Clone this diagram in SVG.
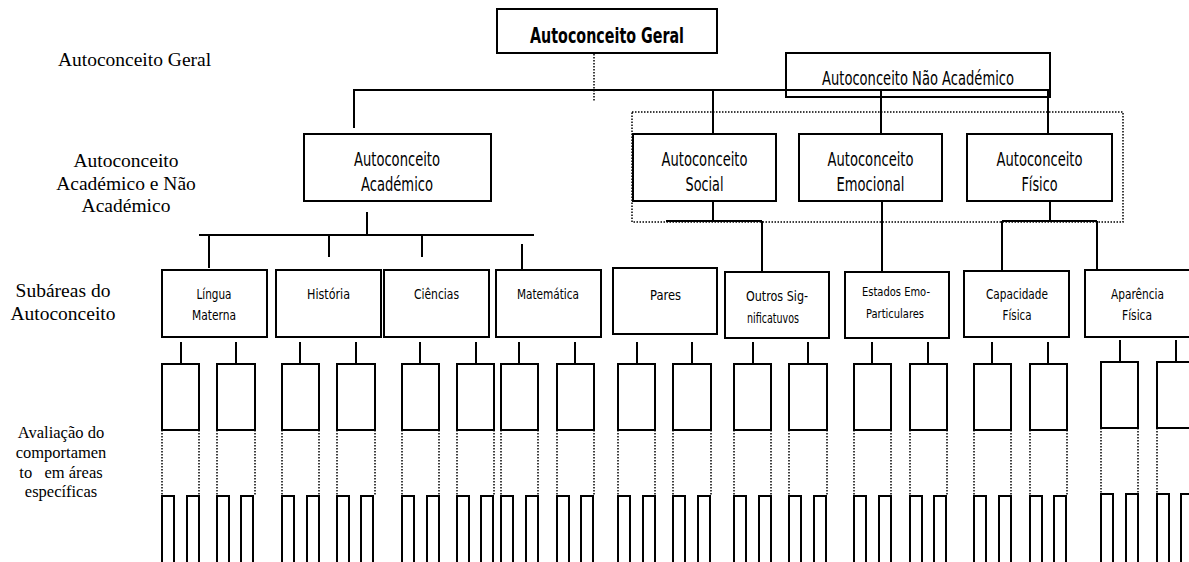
<svg xmlns="http://www.w3.org/2000/svg" width="1189" height="562" viewBox="0 0 1189 562">
<style>
.bx{fill:#fff;stroke:#000;stroke-width:2}
.ln{stroke:#000;stroke-width:2;fill:none}
.dt{stroke:#000;stroke-width:1.5;fill:none;stroke-dasharray:1.5 1.5}
.c{font-family:"DejaVu Sans Condensed","DejaVu Sans",sans-serif;fill:#000;text-anchor:middle}
.s{font-family:"Liberation Serif","Times New Roman",serif;fill:#000;text-anchor:middle}
</style>
<defs>
<g id="col">
<line class="ln" x1="0" y1="-22" x2="0" y2="0"/>
</g>
</defs>

<!-- left labels -->
<g id="labels">
<text class="s" x="134.5" y="66" font-size="19.5">Autoconceito Geral</text>
<text class="s" x="126" y="167" font-size="19.5">Autoconceito</text>
<text class="s" x="126" y="189.5" font-size="19.5">Académico e Não</text>
<text class="s" x="126" y="212" font-size="19.5">Académico</text>
<text class="s" x="63" y="297" font-size="19.5">Subáreas do</text>
<text class="s" x="63" y="320" font-size="19.5">Autoconceito</text>
<text class="s" x="61" y="438" font-size="16.5">Avaliação do</text>
<text class="s" x="61" y="458" font-size="16.5">comportamen</text>
<text class="s" x="61" y="478" font-size="16.5" style="white-space:pre">to   em áreas</text>
<text class="s" x="61" y="497" font-size="16.5">específicas</text>
</g>

<!-- connectors -->
<g id="connectors">
<line class="dt" x1="594" y1="54" x2="594" y2="102"/>
<line class="ln" x1="355" y1="90" x2="1049" y2="90"/>
<line class="ln" x1="354" y1="89" x2="354" y2="128"/>
<line class="ln" x1="713" y1="90" x2="713" y2="134"/>
<line class="ln" x1="881" y1="90" x2="881" y2="134"/>
<line class="ln" x1="1048" y1="90" x2="1048" y2="134"/>
<rect class="dt" x="632" y="112" width="491" height="110"/>
<!-- academic -->
<line class="ln" x1="367" y1="212" x2="367" y2="235"/>
<line class="ln" x1="199" y1="235" x2="534" y2="235"/>
<line class="ln" x1="209" y1="235" x2="209" y2="268"/>
<line class="ln" x1="329" y1="235" x2="329" y2="257"/>
<line class="ln" x1="422" y1="235" x2="422" y2="257"/>
<line class="ln" x1="522" y1="244" x2="522" y2="269"/>
<!-- social -->
<line class="ln" x1="713" y1="201" x2="713" y2="221"/>
<line class="ln" x1="666" y1="221" x2="762" y2="221"/>
<line class="ln" x1="762" y1="221" x2="762" y2="272"/>
<!-- emocional -->
<line class="ln" x1="882" y1="201" x2="882" y2="272"/>
<!-- fisico -->
<line class="ln" x1="1050" y1="198" x2="1050" y2="221"/>
<line class="ln" x1="1002" y1="221" x2="1097" y2="221"/>
<line class="ln" x1="1002" y1="221" x2="1002" y2="271"/>
<line class="ln" x1="1097" y1="221" x2="1097" y2="270"/>
<!-- ticks to behaviour boxes -->
<line class="ln" x1="181" y1="342" x2="181" y2="364"/>
<line class="ln" x1="236" y1="342" x2="236" y2="364"/>
<line class="ln" x1="300" y1="342" x2="300" y2="364"/>
<line class="ln" x1="356" y1="342" x2="356" y2="364"/>
<line class="ln" x1="420" y1="342" x2="420" y2="364"/>
<line class="ln" x1="476" y1="342" x2="476" y2="364"/>
<line class="ln" x1="519" y1="342" x2="519" y2="364"/>
<line class="ln" x1="575" y1="342" x2="575" y2="364"/>
<line class="ln" x1="637" y1="342" x2="637" y2="364"/>
<line class="ln" x1="692" y1="342" x2="692" y2="364"/>
<line class="ln" x1="753" y1="342" x2="753" y2="364"/>
<line class="ln" x1="808" y1="342" x2="808" y2="364"/>
<line class="ln" x1="872" y1="342" x2="872" y2="364"/>
<line class="ln" x1="928" y1="342" x2="928" y2="364"/>
<line class="ln" x1="992" y1="342" x2="992" y2="364"/>
<line class="ln" x1="1048" y1="342" x2="1048" y2="364"/>
<line class="ln" x1="1120" y1="340" x2="1120" y2="362"/>
<line class="ln" x1="1176" y1="340" x2="1176" y2="362"/>
</g>

<!-- top nodes -->
<g id="n-geral">
<rect class="bx" x="497" y="9" width="220" height="44"/>
<text class="c" x="607" y="43" font-size="21" font-weight="bold" textLength="154" lengthAdjust="spacingAndGlyphs">Autoconceito Geral</text>
</g>
<g id="n-naoacad">
<rect x="786" y="53" width="264" height="44" fill="none" stroke="#000" stroke-width="2"/>
<text class="c" x="918" y="85" font-size="19" textLength="192" lengthAdjust="spacingAndGlyphs">Autoconceito Não Académico</text>
</g>

<g id="n-academico">
<rect class="bx" x="304" y="134" width="187" height="67"/>
<text class="c" x="397" y="166" font-size="19" textLength="86" lengthAdjust="spacingAndGlyphs">Autoconceito</text>
<text class="c" x="397" y="191" font-size="19" textLength="72" lengthAdjust="spacingAndGlyphs">Académico</text>
</g>
<g id="n-social">
<rect class="bx" x="633" y="134" width="143" height="67"/>
<text class="c" x="704.5" y="166" font-size="19" textLength="86" lengthAdjust="spacingAndGlyphs">Autoconceito</text>
<text class="c" x="704.5" y="191" font-size="19" textLength="38" lengthAdjust="spacingAndGlyphs">Social</text>
</g>
<g id="n-emocional">
<rect class="bx" x="799" y="134" width="143" height="67"/>
<text class="c" x="870.5" y="166" font-size="19" textLength="86" lengthAdjust="spacingAndGlyphs">Autoconceito</text>
<text class="c" x="870.5" y="191" font-size="19" textLength="68" lengthAdjust="spacingAndGlyphs">Emocional</text>
</g>
<g id="n-fisico">
<rect class="bx" x="967" y="134" width="145" height="67"/>
<text class="c" x="1039.5" y="166" font-size="19" textLength="86" lengthAdjust="spacingAndGlyphs">Autoconceito</text>
<text class="c" x="1039.5" y="191" font-size="19" textLength="36" lengthAdjust="spacingAndGlyphs">Físico</text>
</g>

<!-- subareas -->
<g id="n-lingua">
<rect class="bx" x="162" y="270" width="105" height="67"/>
<text class="c" x="214" y="299" font-size="14.5" textLength="35" lengthAdjust="spacingAndGlyphs">Língua</text>
<text class="c" x="214" y="320" font-size="14.5" textLength="44" lengthAdjust="spacingAndGlyphs">Materna</text>
</g>
<g id="n-historia">
<rect class="bx" x="276" y="270" width="105" height="67"/>
<text class="c" x="328.5" y="299" font-size="14.5" textLength="43" lengthAdjust="spacingAndGlyphs">História</text>
</g>
<g id="n-ciencias">
<rect class="bx" x="384" y="270" width="105" height="67"/>
<text class="c" x="436.5" y="299" font-size="14.5" textLength="45" lengthAdjust="spacingAndGlyphs">Ciências</text>
</g>
<g id="n-matematica">
<rect class="bx" x="496" y="270" width="105" height="67"/>
<text class="c" x="548" y="299" font-size="14.5" textLength="62" lengthAdjust="spacingAndGlyphs">Matemática</text>
</g>
<g id="n-pares">
<rect class="bx" x="613" y="268" width="104" height="66"/>
<text class="c" x="665.5" y="300" font-size="14.5" textLength="31" lengthAdjust="spacingAndGlyphs">Pares</text>
</g>
<g id="n-outros">
<rect class="bx" x="725" y="272" width="104" height="66"/>
<text class="c" x="777" y="301" font-size="14.5" textLength="62" lengthAdjust="spacingAndGlyphs">Outros Sig-</text>
<text class="c" x="773" y="323" font-size="14.5" textLength="52" lengthAdjust="spacingAndGlyphs">nificatuvos</text>
</g>
<g id="n-estados">
<rect class="bx" x="845" y="272" width="104" height="66"/>
<text class="c" x="896" y="296" font-size="12.5" textLength="68" lengthAdjust="spacingAndGlyphs">Estados Emo-</text>
<text class="c" x="895" y="318" font-size="12.5" textLength="58" lengthAdjust="spacingAndGlyphs">Particulares</text>
</g>
<g id="n-capacidade">
<rect class="bx" x="964" y="271" width="105" height="66"/>
<text class="c" x="1017" y="299" font-size="14.5" textLength="62" lengthAdjust="spacingAndGlyphs">Capacidade</text>
<text class="c" x="1017" y="320" font-size="14.5" textLength="29" lengthAdjust="spacingAndGlyphs">Física</text>
</g>
<g id="n-aparencia">
<rect class="bx" x="1085" y="270" width="110" height="67"/>
<text class="c" x="1137.5" y="299" font-size="14.5" textLength="53" lengthAdjust="spacingAndGlyphs">Aparência</text>
<text class="c" x="1137" y="320" font-size="14.5" textLength="30" lengthAdjust="spacingAndGlyphs">Física</text>
</g>

<!-- behaviour evaluation boxes -->
<g id="behaviour">
<g id="b1"><rect class="bx" x="162" y="364" width="37" height="66"/><line class="dt" x1="162" y1="430" x2="162" y2="495"/><line class="dt" x1="199" y1="430" x2="199" y2="495"/><rect class="bx" x="162" y="496" width="12" height="70"/><rect class="bx" x="187" y="496" width="12" height="70"/></g>
<g id="b2"><rect class="bx" x="217" y="364" width="38" height="66"/><line class="dt" x1="217" y1="430" x2="217" y2="495"/><line class="dt" x1="255" y1="430" x2="255" y2="495"/><rect class="bx" x="217" y="496" width="12" height="70"/><rect class="bx" x="241" y="496" width="12" height="70"/></g>
<g id="b3"><rect class="bx" x="282" y="364" width="37" height="66"/><line class="dt" x1="282" y1="430" x2="282" y2="495"/><line class="dt" x1="319" y1="430" x2="319" y2="495"/><rect class="bx" x="282" y="496" width="12" height="70"/><rect class="bx" x="307" y="496" width="12" height="70"/></g>
<g id="b4"><rect class="bx" x="337" y="364" width="38" height="66"/><line class="dt" x1="337" y1="430" x2="337" y2="495"/><line class="dt" x1="375" y1="430" x2="375" y2="495"/><rect class="bx" x="337" y="496" width="12" height="70"/><rect class="bx" x="361" y="496" width="12" height="70"/></g>
<g id="b5"><rect class="bx" x="402" y="364" width="37" height="66"/><line class="dt" x1="402" y1="430" x2="402" y2="495"/><line class="dt" x1="439" y1="430" x2="439" y2="495"/><rect class="bx" x="402" y="496" width="12" height="70"/><rect class="bx" x="427" y="496" width="12" height="70"/></g>
<g id="b6"><rect class="bx" x="457" y="364" width="37" height="66"/><line class="dt" x1="457" y1="430" x2="457" y2="495"/><line class="dt" x1="494" y1="430" x2="494" y2="495"/><rect class="bx" x="457" y="496" width="12" height="70"/><rect class="bx" x="481" y="496" width="12" height="70"/></g>
<g id="b7"><rect class="bx" x="501" y="364" width="37" height="66"/><line class="dt" x1="501" y1="430" x2="501" y2="495"/><line class="dt" x1="538" y1="430" x2="538" y2="495"/><rect class="bx" x="501" y="496" width="12" height="70"/><rect class="bx" x="526" y="496" width="12" height="70"/></g>
<g id="b8"><rect class="bx" x="557" y="364" width="37" height="66"/><line class="dt" x1="557" y1="430" x2="557" y2="495"/><line class="dt" x1="594" y1="430" x2="594" y2="495"/><rect class="bx" x="557" y="496" width="12" height="70"/><rect class="bx" x="581" y="496" width="12" height="70"/></g>
<g id="b9"><rect class="bx" x="618" y="364" width="37" height="66"/><line class="dt" x1="618" y1="430" x2="618" y2="495"/><line class="dt" x1="655" y1="430" x2="655" y2="495"/><rect class="bx" x="618" y="496" width="12" height="70"/><rect class="bx" x="643" y="496" width="12" height="70"/></g>
<g id="b10"><rect class="bx" x="673" y="364" width="38" height="66"/><line class="dt" x1="673" y1="430" x2="673" y2="495"/><line class="dt" x1="711" y1="430" x2="711" y2="495"/><rect class="bx" x="673" y="496" width="12" height="70"/><rect class="bx" x="698" y="496" width="12" height="70"/></g>
<g id="b11"><rect class="bx" x="734" y="364" width="37" height="66"/><line class="dt" x1="734" y1="430" x2="734" y2="495"/><line class="dt" x1="771" y1="430" x2="771" y2="495"/><rect class="bx" x="734" y="496" width="12" height="70"/><rect class="bx" x="759" y="496" width="12" height="70"/></g>
<g id="b12"><rect class="bx" x="789" y="364" width="38" height="66"/><line class="dt" x1="789" y1="430" x2="789" y2="495"/><line class="dt" x1="827" y1="430" x2="827" y2="495"/><rect class="bx" x="789" y="496" width="12" height="70"/><rect class="bx" x="814" y="496" width="12" height="70"/></g>
<g id="b13"><rect class="bx" x="854" y="364" width="37" height="66"/><line class="dt" x1="854" y1="430" x2="854" y2="495"/><line class="dt" x1="891" y1="430" x2="891" y2="495"/><rect class="bx" x="854" y="496" width="12" height="70"/><rect class="bx" x="879" y="496" width="12" height="70"/></g>
<g id="b14"><rect class="bx" x="910" y="364" width="37" height="66"/><line class="dt" x1="910" y1="430" x2="910" y2="495"/><line class="dt" x1="947" y1="430" x2="947" y2="495"/><rect class="bx" x="910" y="496" width="12" height="70"/><rect class="bx" x="934" y="496" width="12" height="70"/></g>
<g id="b15"><rect class="bx" x="974" y="364" width="37" height="66"/><line class="dt" x1="974" y1="430" x2="974" y2="495"/><line class="dt" x1="1011" y1="430" x2="1011" y2="495"/><rect class="bx" x="974" y="496" width="12" height="70"/><rect class="bx" x="999" y="496" width="12" height="70"/></g>
<g id="b16"><rect class="bx" x="1030" y="364" width="37" height="66"/><line class="dt" x1="1030" y1="430" x2="1030" y2="495"/><line class="dt" x1="1067" y1="430" x2="1067" y2="495"/><rect class="bx" x="1030" y="496" width="12" height="70"/><rect class="bx" x="1054" y="496" width="12" height="70"/></g>
<g id="b17"><rect class="bx" x="1101" y="362" width="37" height="66"/><line class="dt" x1="1101" y1="428" x2="1101" y2="493"/><line class="dt" x1="1138" y1="428" x2="1138" y2="493"/><rect class="bx" x="1101" y="494" width="12" height="72"/><rect class="bx" x="1126" y="494" width="12" height="72"/></g>
<g id="b18"><rect class="bx" x="1157" y="362" width="37" height="66"/><line class="dt" x1="1157" y1="428" x2="1157" y2="493"/><rect class="bx" x="1157" y="494" width="12" height="72"/><rect class="bx" x="1181" y="494" width="12" height="72"/></g>
</g>
</svg>
